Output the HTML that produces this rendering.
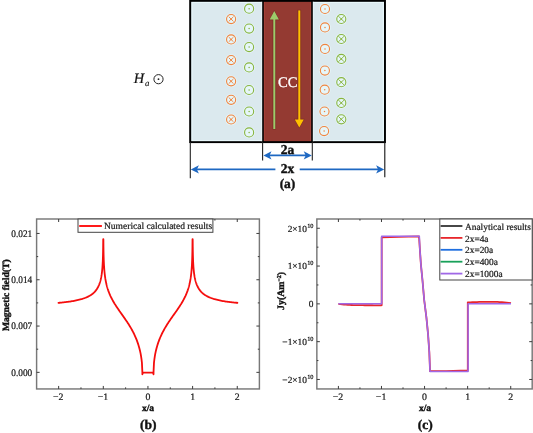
<!DOCTYPE html>
<html><head><meta charset="utf-8"><style>
html,body{margin:0;padding:0;background:#fff;}
svg{display:block;will-change:transform;text-rendering:geometricPrecision;}
.k{stroke:#1a1a1a;stroke-width:0.22px;}
.kb{stroke:#111;stroke-width:0.4px;}
</style></head><body>
<svg width="533" height="433" viewBox="0 0 533 433">
<rect x="190.3" y="0.8" width="194.59999999999997" height="141.39999999999998" fill="#dbe9ee" stroke="#000" stroke-width="1.7"/><rect x="191.85000000000002" y="2.35" width="191.49999999999997" height="138.29999999999998" fill="none" stroke="#e8f7fa" stroke-width="1.3"/><rect x="261.3" y="0.8" width="52.4" height="141.39999999999998" fill="#e8f7fa"/><rect x="263.0" y="0.8" width="49.0" height="141.39999999999998" fill="#ad463d"/><rect x="264.6" y="2.0" width="45.8" height="138.99999999999997" fill="#943a32"/><rect x="263.0" y="0.8" width="49.0" height="141.39999999999998" fill="none" stroke="#000" stroke-width="1.6"/><rect x="190.3" y="0.8" width="194.59999999999997" height="141.39999999999998" fill="none" stroke="#000" stroke-width="1.7"/><circle cx="231.1" cy="19.05" r="4.55" fill="#e6f6f9" stroke="#e6f6f9" stroke-width="2.6"/><circle cx="231.1" cy="19.05" r="4.55" fill="none" stroke="#f0843f" stroke-width="1.1"/><path d="M228.7 16.650000000000002L233.5 21.45M233.5 16.650000000000002L228.7 21.45" stroke="#f0843f" stroke-width="0.95"/><circle cx="231.1" cy="19.05" r="0.8" fill="#f0843f"/><circle cx="231.1" cy="39.45" r="4.55" fill="#e6f6f9" stroke="#e6f6f9" stroke-width="2.6"/><circle cx="231.1" cy="39.45" r="4.55" fill="none" stroke="#f0843f" stroke-width="1.1"/><path d="M228.7 37.050000000000004L233.5 41.85M233.5 37.050000000000004L228.7 41.85" stroke="#f0843f" stroke-width="0.95"/><circle cx="231.1" cy="39.45" r="0.8" fill="#f0843f"/><circle cx="231.1" cy="60.1" r="4.55" fill="#e6f6f9" stroke="#e6f6f9" stroke-width="2.6"/><circle cx="231.1" cy="60.1" r="4.55" fill="none" stroke="#f0843f" stroke-width="1.1"/><path d="M228.7 57.7L233.5 62.5M233.5 57.7L228.7 62.5" stroke="#f0843f" stroke-width="0.95"/><circle cx="231.1" cy="60.1" r="0.8" fill="#f0843f"/><circle cx="231.1" cy="81.3" r="4.55" fill="#e6f6f9" stroke="#e6f6f9" stroke-width="2.6"/><circle cx="231.1" cy="81.3" r="4.55" fill="none" stroke="#f0843f" stroke-width="1.1"/><path d="M228.7 78.89999999999999L233.5 83.7M233.5 78.89999999999999L228.7 83.7" stroke="#f0843f" stroke-width="0.95"/><circle cx="231.1" cy="81.3" r="0.8" fill="#f0843f"/><circle cx="231.1" cy="99.8" r="4.55" fill="#e6f6f9" stroke="#e6f6f9" stroke-width="2.6"/><circle cx="231.1" cy="99.8" r="4.55" fill="none" stroke="#f0843f" stroke-width="1.1"/><path d="M228.7 97.39999999999999L233.5 102.2M233.5 97.39999999999999L228.7 102.2" stroke="#f0843f" stroke-width="0.95"/><circle cx="231.1" cy="99.8" r="0.8" fill="#f0843f"/><circle cx="231.1" cy="119.5" r="4.55" fill="#e6f6f9" stroke="#e6f6f9" stroke-width="2.6"/><circle cx="231.1" cy="119.5" r="4.55" fill="none" stroke="#f0843f" stroke-width="1.1"/><path d="M228.7 117.1L233.5 121.9M233.5 117.1L228.7 121.9" stroke="#f0843f" stroke-width="0.95"/><circle cx="231.1" cy="119.5" r="0.8" fill="#f0843f"/><circle cx="249.1" cy="8.7" r="4.55" fill="#e6f6f9" stroke="#e6f6f9" stroke-width="2.6"/><circle cx="249.1" cy="8.7" r="4.55" fill="none" stroke="#89b43f" stroke-width="1.1"/><circle cx="249.1" cy="8.7" r="0.75" fill="#89b43f"/><circle cx="249.1" cy="28.6" r="4.55" fill="#e6f6f9" stroke="#e6f6f9" stroke-width="2.6"/><circle cx="249.1" cy="28.6" r="4.55" fill="none" stroke="#89b43f" stroke-width="1.1"/><circle cx="249.1" cy="28.6" r="0.75" fill="#89b43f"/><circle cx="249.1" cy="47.1" r="4.55" fill="#e6f6f9" stroke="#e6f6f9" stroke-width="2.6"/><circle cx="249.1" cy="47.1" r="4.55" fill="none" stroke="#89b43f" stroke-width="1.1"/><circle cx="249.1" cy="47.1" r="0.75" fill="#89b43f"/><circle cx="249.1" cy="67.4" r="4.55" fill="#e6f6f9" stroke="#e6f6f9" stroke-width="2.6"/><circle cx="249.1" cy="67.4" r="4.55" fill="none" stroke="#89b43f" stroke-width="1.1"/><circle cx="249.1" cy="67.4" r="0.75" fill="#89b43f"/><circle cx="249.1" cy="90.0" r="4.55" fill="#e6f6f9" stroke="#e6f6f9" stroke-width="2.6"/><circle cx="249.1" cy="90.0" r="4.55" fill="none" stroke="#89b43f" stroke-width="1.1"/><circle cx="249.1" cy="90.0" r="0.75" fill="#89b43f"/><circle cx="249.1" cy="111.5" r="4.55" fill="#e6f6f9" stroke="#e6f6f9" stroke-width="2.6"/><circle cx="249.1" cy="111.5" r="4.55" fill="none" stroke="#89b43f" stroke-width="1.1"/><circle cx="249.1" cy="111.5" r="0.75" fill="#89b43f"/><circle cx="249.1" cy="132.4" r="4.55" fill="#e6f6f9" stroke="#e6f6f9" stroke-width="2.6"/><circle cx="249.1" cy="132.4" r="4.55" fill="none" stroke="#89b43f" stroke-width="1.1"/><circle cx="249.1" cy="132.4" r="0.75" fill="#89b43f"/><circle cx="325" cy="9" r="4.55" fill="#e6f6f9" stroke="#e6f6f9" stroke-width="2.6"/><circle cx="325" cy="9" r="4.55" fill="none" stroke="#f0843f" stroke-width="1.1"/><circle cx="325" cy="9" r="0.75" fill="#f0843f"/><circle cx="325" cy="27.4" r="4.55" fill="#e6f6f9" stroke="#e6f6f9" stroke-width="2.6"/><circle cx="325" cy="27.4" r="4.55" fill="none" stroke="#f0843f" stroke-width="1.1"/><circle cx="325" cy="27.4" r="0.75" fill="#f0843f"/><circle cx="325" cy="48.9" r="4.55" fill="#e6f6f9" stroke="#e6f6f9" stroke-width="2.6"/><circle cx="325" cy="48.9" r="4.55" fill="none" stroke="#f0843f" stroke-width="1.1"/><circle cx="325" cy="48.9" r="0.75" fill="#f0843f"/><circle cx="324.9" cy="70.6" r="4.55" fill="#e6f6f9" stroke="#e6f6f9" stroke-width="2.6"/><circle cx="324.9" cy="70.6" r="4.55" fill="none" stroke="#f0843f" stroke-width="1.1"/><circle cx="324.9" cy="70.6" r="0.75" fill="#f0843f"/><circle cx="324.7" cy="89.7" r="4.55" fill="#e6f6f9" stroke="#e6f6f9" stroke-width="2.6"/><circle cx="324.7" cy="89.7" r="4.55" fill="none" stroke="#f0843f" stroke-width="1.1"/><circle cx="324.7" cy="89.7" r="0.75" fill="#f0843f"/><circle cx="324.5" cy="111.5" r="4.55" fill="#e6f6f9" stroke="#e6f6f9" stroke-width="2.6"/><circle cx="324.5" cy="111.5" r="4.55" fill="none" stroke="#f0843f" stroke-width="1.1"/><circle cx="324.5" cy="111.5" r="0.75" fill="#f0843f"/><circle cx="324.1" cy="131.1" r="4.55" fill="#e6f6f9" stroke="#e6f6f9" stroke-width="2.6"/><circle cx="324.1" cy="131.1" r="4.55" fill="none" stroke="#f0843f" stroke-width="1.1"/><circle cx="324.1" cy="131.1" r="0.75" fill="#f0843f"/><circle cx="341.3" cy="19.0" r="4.55" fill="#e6f6f9" stroke="#e6f6f9" stroke-width="2.6"/><circle cx="341.3" cy="19.0" r="4.55" fill="none" stroke="#89b43f" stroke-width="1.1"/><path d="M338.40000000000003 16.1L344.2 21.9M344.2 16.1L338.40000000000003 21.9" stroke="#89b43f" stroke-width="0.95"/><circle cx="341.3" cy="19.0" r="0.8" fill="#89b43f"/><circle cx="341.3" cy="39.0" r="4.55" fill="#e6f6f9" stroke="#e6f6f9" stroke-width="2.6"/><circle cx="341.3" cy="39.0" r="4.55" fill="none" stroke="#89b43f" stroke-width="1.1"/><path d="M338.40000000000003 36.1L344.2 41.9M344.2 36.1L338.40000000000003 41.9" stroke="#89b43f" stroke-width="0.95"/><circle cx="341.3" cy="39.0" r="0.8" fill="#89b43f"/><circle cx="341.3" cy="58.9" r="4.55" fill="#e6f6f9" stroke="#e6f6f9" stroke-width="2.6"/><circle cx="341.3" cy="58.9" r="4.55" fill="none" stroke="#89b43f" stroke-width="1.1"/><path d="M338.40000000000003 56.0L344.2 61.8M344.2 56.0L338.40000000000003 61.8" stroke="#89b43f" stroke-width="0.95"/><circle cx="341.3" cy="58.9" r="0.8" fill="#89b43f"/><circle cx="341.3" cy="82.2" r="4.55" fill="#e6f6f9" stroke="#e6f6f9" stroke-width="2.6"/><circle cx="341.3" cy="82.2" r="4.55" fill="none" stroke="#89b43f" stroke-width="1.1"/><path d="M338.40000000000003 79.3L344.2 85.10000000000001M344.2 79.3L338.40000000000003 85.10000000000001" stroke="#89b43f" stroke-width="0.95"/><circle cx="341.3" cy="82.2" r="0.8" fill="#89b43f"/><circle cx="341.3" cy="102.9" r="4.55" fill="#e6f6f9" stroke="#e6f6f9" stroke-width="2.6"/><circle cx="341.3" cy="102.9" r="4.55" fill="none" stroke="#89b43f" stroke-width="1.1"/><path d="M338.40000000000003 100.0L344.2 105.80000000000001M344.2 100.0L338.40000000000003 105.80000000000001" stroke="#89b43f" stroke-width="0.95"/><circle cx="341.3" cy="102.9" r="0.8" fill="#89b43f"/><circle cx="341.3" cy="119.3" r="4.55" fill="#e6f6f9" stroke="#e6f6f9" stroke-width="2.6"/><circle cx="341.3" cy="119.3" r="4.55" fill="none" stroke="#89b43f" stroke-width="1.1"/><path d="M338.40000000000003 116.39999999999999L344.2 122.2M344.2 116.39999999999999L338.40000000000003 122.2" stroke="#89b43f" stroke-width="0.95"/><circle cx="341.3" cy="119.3" r="0.8" fill="#89b43f"/><line x1="274.3" y1="129.5" x2="274.3" y2="17" stroke="#7e2c27" stroke-width="3.6"/><path d="M274.3 10 L279.8 20.3 L268.8 20.3Z" fill="#7e2c27"/><line x1="299.3" y1="9.8" x2="299.3" y2="122" stroke="#7e2c27" stroke-width="3.6"/><path d="M299.3 128.4 L304.6 118.8 L294.0 118.8Z" fill="#7e2c27"/><line x1="274.3" y1="129" x2="274.3" y2="17" stroke="#9ccb6a" stroke-width="2"/><path d="M274.3 11 L278.9 19.6 L269.7 19.6Z" fill="#9ccb6a"/><line x1="299.3" y1="10.4" x2="299.3" y2="122" stroke="#ffc000" stroke-width="2"/><path d="M299.3 127.6 L303.8 119.4 L294.8 119.4Z" fill="#ffc000"/><text x="287.7" y="87.4" font-family='"Liberation Serif", serif' font-size="14.6" fill="#fff" stroke="#fff" stroke-width="0.3" text-anchor="middle">CC</text><text x="133.7" y="82.9" font-family='"Liberation Serif", serif' font-size="14.4" font-style="italic" fill="#111" stroke="#111" stroke-width="0.2">H</text><text x="145.0" y="86.4" font-family='"Liberation Serif", serif' font-size="8.8" font-style="italic" fill="#111" stroke="#111" stroke-width="0.15">a</text><circle cx="158.5" cy="79.2" r="4.6" fill="none" stroke="#222" stroke-width="1"/><circle cx="158.5" cy="79.2" r="0.9" fill="#222"/><line x1="190.3" y1="142" x2="190.3" y2="178.3" stroke="#222" stroke-width="1.1"/><line x1="384.8" y1="142" x2="384.8" y2="177.3" stroke="#111" stroke-width="1.1"/><line x1="262.6" y1="142" x2="262.6" y2="160.6" stroke="#222" stroke-width="1.1"/><line x1="312.3" y1="142" x2="312.3" y2="160.6" stroke="#222" stroke-width="1.1"/><line x1="268" y1="155.4" x2="307" y2="155.4" stroke="#1e68c2" stroke-width="1.6"/><path d="M263.4 155.4 L271.5 151.2 L269.5 155.4 L271.5 159.6Z" fill="#1e68c2"/><path d="M311.8 155.4 L303.7 151.2 L305.7 155.4 L303.7 159.6Z" fill="#1e68c2"/><line x1="195" y1="169.4" x2="275.4" y2="169.4" stroke="#1e68c2" stroke-width="1.6"/><line x1="299.7" y1="169.4" x2="380" y2="169.4" stroke="#1e68c2" stroke-width="1.6"/><path d="M190.8 169.4 L198.9 165.2 L196.9 169.4 L198.9 173.6Z" fill="#1e68c2"/><path d="M384.2 169.4 L376.1 165.2 L378.1 169.4 L376.1 173.6Z" fill="#1e68c2"/><text x="287.4" y="153.9" font-family='"Liberation Serif", serif' font-size="13.5" font-weight="bold" fill="#111" class="kb" text-anchor="middle">2a</text><text x="287.5" y="172.8" font-family='"Liberation Serif", serif' font-size="13.5" font-weight="bold" fill="#111" class="kb" text-anchor="middle">2x</text><text x="287.5" y="187.5" font-family='"Liberation Serif", serif' font-size="13.5" font-weight="bold" fill="#111" class="kb" text-anchor="middle">(a)</text><path d="M58.65 302.83 L59.68 302.74 L60.71 302.64 L61.74 302.54 L62.77 302.43 L63.80 302.32 L64.83 302.20 L65.86 302.08 L66.89 301.95 L67.92 301.82 L68.95 301.68 L69.98 301.53 L71.01 301.37 L72.04 301.20 L73.08 301.03 L74.11 300.84 L75.14 300.65 L76.17 300.44 L77.20 300.21 L78.23 299.98 L79.26 299.73 L80.29 299.46 L81.32 299.17 L82.35 298.86 L83.38 298.52 L84.41 298.16 L85.44 297.77 L86.47 297.34 L87.50 296.88 L88.53 296.37 L89.56 295.80 L90.59 295.18 L91.62 294.48 L92.65 293.70 L93.68 292.81 L94.71 291.80 L95.74 290.61 L96.77 289.21 L97.80 287.52 L98.83 285.41 L98.91 285.23 L98.99 285.05 L99.06 284.87 L99.14 284.68 L99.21 284.49 L99.29 284.30 L99.36 284.10 L99.44 283.89 L99.52 283.68 L99.59 283.47 L99.67 283.25 L99.74 283.03 L99.82 282.80 L99.89 282.57 L99.97 282.33 L100.05 282.08 L100.12 281.83 L100.20 281.57 L100.27 281.30 L100.35 281.03 L100.42 280.75 L100.50 280.46 L100.58 280.16 L100.65 279.85 L100.73 279.53 L100.80 279.20 L100.88 278.87 L100.95 278.52 L101.03 278.15 L101.11 277.78 L101.18 277.39 L101.26 276.98 L101.33 276.56 L101.41 276.12 L101.48 275.66 L101.56 275.18 L101.64 274.68 L101.71 274.16 L101.79 273.60 L101.86 273.02 L101.94 272.40 L102.01 271.75 L102.09 271.06 L102.16 270.32 L102.24 269.52 L102.32 268.67 L102.39 267.74 L102.47 266.73 L102.54 265.63 L102.62 264.40 L102.69 263.02 L102.77 261.46 L102.85 259.65 L102.92 257.50 L103.00 254.87 L103.07 251.46 L103.15 246.65 L103.22 239.27 L103.30 239.27 L103.38 239.27 L103.45 246.78 L103.53 251.65 L103.60 255.11 L103.68 257.81 L103.75 260.02 L103.83 261.89 L103.91 263.51 L103.98 264.95 L104.06 266.24 L104.13 267.41 L104.21 268.48 L104.28 269.47 L104.36 270.38 L104.44 271.24 L104.51 272.04 L104.59 272.80 L104.66 273.51 L104.74 274.19 L104.81 274.83 L104.89 275.45 L104.96 276.03 L105.04 276.60 L105.12 277.14 L105.19 277.66 L105.27 278.16 L105.34 278.64 L105.42 279.11 L105.49 279.56 L105.57 279.99 L105.65 280.42 L105.72 280.83 L105.80 281.23 L105.87 281.62 L105.95 282.00 L106.02 282.37 L106.10 282.73 L106.18 283.08 L106.25 283.42 L106.33 283.76 L106.40 284.09 L106.48 284.41 L106.55 284.72 L106.63 285.03 L106.71 285.33 L106.78 285.63 L106.86 285.92 L106.93 286.21 L107.01 286.49 L107.08 286.76 L107.16 287.03 L107.24 287.30 L107.31 287.56 L107.39 287.82 L107.46 288.07 L107.54 288.32 L107.61 288.57 L107.69 288.81 L107.76 289.05 L108.20 290.37 L108.64 291.59 L109.08 292.74 L109.52 293.82 L109.96 294.85 L110.39 295.83 L110.83 296.76 L111.27 297.66 L111.71 298.53 L112.15 299.36 L112.58 300.17 L113.02 300.96 L113.46 301.72 L113.90 302.47 L114.34 303.20 L114.77 303.92 L115.21 304.62 L115.65 305.31 L116.09 305.99 L116.53 306.66 L116.96 307.32 L117.40 307.97 L117.84 308.62 L118.28 309.26 L118.72 309.89 L119.15 310.52 L119.59 311.15 L120.03 311.77 L120.47 312.40 L120.91 313.02 L121.34 313.63 L121.78 314.25 L122.22 314.87 L122.66 315.49 L123.10 316.11 L123.53 316.73 L123.97 317.36 L124.41 317.98 L124.85 318.61 L125.29 319.25 L125.72 319.89 L126.16 320.53 L126.60 321.18 L127.04 321.84 L127.48 322.50 L127.91 323.17 L128.35 323.85 L128.79 324.54 L129.23 325.24 L129.67 325.95 L130.10 326.67 L130.54 327.41 L130.98 328.15 L131.42 328.92 L131.86 329.70 L132.29 330.50 L132.73 331.32 L133.17 332.16 L133.61 333.02 L134.05 333.91 L134.48 334.83 L134.92 335.78 L135.36 336.76 L135.80 337.77 L136.24 338.83 L136.67 339.94 L137.11 341.10 L137.55 342.32 L137.99 343.60 L138.43 344.97 L138.86 346.43 L139.30 348.00 L139.74 349.70 L140.18 351.58 L140.62 353.68 L141.05 356.10 L141.49 359.01 L141.93 362.87 L142.37 372.35 L142.37 374.33 L142.90 372.68 L153.00 372.68 L153.53 374.33 L153.53 372.35 L153.97 362.87 L154.41 359.01 L154.85 356.10 L155.28 353.68 L155.72 351.58 L156.16 349.70 L156.60 348.00 L157.04 346.43 L157.47 344.97 L157.91 343.60 L158.35 342.32 L158.79 341.10 L159.23 339.94 L159.66 338.83 L160.10 337.77 L160.54 336.76 L160.98 335.78 L161.42 334.83 L161.85 333.91 L162.29 333.02 L162.73 332.16 L163.17 331.32 L163.61 330.50 L164.04 329.70 L164.48 328.92 L164.92 328.15 L165.36 327.41 L165.80 326.67 L166.23 325.95 L166.67 325.24 L167.11 324.54 L167.55 323.85 L167.99 323.17 L168.42 322.50 L168.86 321.84 L169.30 321.18 L169.74 320.53 L170.18 319.89 L170.61 319.25 L171.05 318.61 L171.49 317.98 L171.93 317.36 L172.37 316.73 L172.80 316.11 L173.24 315.49 L173.68 314.87 L174.12 314.25 L174.56 313.63 L174.99 313.02 L175.43 312.40 L175.87 311.77 L176.31 311.15 L176.75 310.52 L177.18 309.89 L177.62 309.26 L178.06 308.62 L178.50 307.97 L178.94 307.32 L179.37 306.66 L179.81 305.99 L180.25 305.31 L180.69 304.62 L181.13 303.92 L181.56 303.20 L182.00 302.47 L182.44 301.72 L182.88 300.96 L183.32 300.17 L183.75 299.36 L184.19 298.53 L184.63 297.66 L185.07 296.76 L185.51 295.83 L185.94 294.85 L186.38 293.82 L186.82 292.74 L187.26 291.59 L187.70 290.37 L188.13 289.05 L188.21 288.81 L188.29 288.57 L188.36 288.32 L188.44 288.07 L188.51 287.82 L188.59 287.56 L188.66 287.30 L188.74 287.03 L188.82 286.76 L188.89 286.49 L188.97 286.21 L189.04 285.92 L189.12 285.63 L189.19 285.33 L189.27 285.03 L189.35 284.72 L189.42 284.41 L189.50 284.09 L189.57 283.76 L189.65 283.42 L189.72 283.08 L189.80 282.73 L189.88 282.37 L189.95 282.00 L190.03 281.62 L190.10 281.23 L190.18 280.83 L190.25 280.42 L190.33 279.99 L190.41 279.56 L190.48 279.11 L190.56 278.64 L190.63 278.16 L190.71 277.66 L190.78 277.14 L190.86 276.60 L190.94 276.03 L191.01 275.45 L191.09 274.83 L191.16 274.19 L191.24 273.51 L191.31 272.80 L191.39 272.04 L191.46 271.24 L191.54 270.38 L191.62 269.47 L191.69 268.48 L191.77 267.41 L191.84 266.24 L191.92 264.95 L191.99 263.51 L192.07 261.89 L192.15 260.02 L192.22 257.81 L192.30 255.11 L192.37 251.65 L192.45 246.78 L192.52 239.27 L192.60 239.27 L192.68 239.27 L192.75 246.65 L192.83 251.46 L192.90 254.87 L192.98 257.50 L193.05 259.65 L193.13 261.46 L193.21 263.02 L193.28 264.40 L193.36 265.63 L193.43 266.73 L193.51 267.74 L193.58 268.67 L193.66 269.52 L193.74 270.32 L193.81 271.06 L193.89 271.75 L193.96 272.40 L194.04 273.02 L194.11 273.60 L194.19 274.16 L194.26 274.68 L194.34 275.18 L194.42 275.66 L194.49 276.12 L194.57 276.56 L194.64 276.98 L194.72 277.39 L194.79 277.78 L194.87 278.15 L194.95 278.52 L195.02 278.87 L195.10 279.20 L195.17 279.53 L195.25 279.85 L195.32 280.16 L195.40 280.46 L195.48 280.75 L195.55 281.03 L195.63 281.30 L195.70 281.57 L195.78 281.83 L195.85 282.08 L195.93 282.33 L196.01 282.57 L196.08 282.80 L196.16 283.03 L196.23 283.25 L196.31 283.47 L196.38 283.68 L196.46 283.89 L196.54 284.10 L196.61 284.30 L196.69 284.49 L196.76 284.68 L196.84 284.87 L196.91 285.05 L196.99 285.23 L197.06 285.41 L198.10 287.52 L199.13 289.21 L200.16 290.61 L201.19 291.80 L202.22 292.81 L203.25 293.70 L204.28 294.48 L205.31 295.18 L206.34 295.80 L207.37 296.37 L208.40 296.88 L209.43 297.34 L210.46 297.77 L211.49 298.16 L212.52 298.52 L213.55 298.86 L214.58 299.17 L215.61 299.46 L216.64 299.73 L217.67 299.98 L218.70 300.21 L219.73 300.44 L220.76 300.65 L221.79 300.84 L222.82 301.03 L223.85 301.20 L224.89 301.37 L225.92 301.53 L226.95 301.68 L227.98 301.82 L229.01 301.95 L230.04 302.08 L231.07 302.20 L232.10 302.32 L233.13 302.43 L234.16 302.54 L235.19 302.64 L236.22 302.74 L237.25 302.83" fill="none" stroke="#f50d0d" stroke-width="1.8" stroke-linejoin="round" stroke-linecap="square"/><rect x="36.6" y="219.0" width="222.79999999999998" height="169.95" fill="none" stroke="#787878" stroke-width="1.45"/><path d="M58.65 388.95v-3M58.65 219.0v3M103.30 388.95v-3M103.30 219.0v3M147.95 388.95v-3M147.95 219.0v3M192.60 388.95v-3M192.60 219.0v3M237.25 388.95v-3M237.25 219.0v3M80.97 388.95v-1.6M80.97 219.0v1.6M125.62 388.95v-1.6M125.62 219.0v1.6M170.27 388.95v-1.6M170.27 219.0v1.6M214.92 388.95v-1.6M214.92 219.0v1.6M36.6 372.35h3M259.4 372.35h-3M36.6 326.05h3M259.4 326.05h-3M36.6 279.75h3M259.4 279.75h-3M36.6 233.45h3M259.4 233.45h-3M36.6 349.20h1.6M259.4 349.20h-1.6M36.6 302.90h1.6M259.4 302.90h-1.6M36.6 256.60h1.6M259.4 256.60h-1.6" stroke="#3c3c3c" stroke-width="1.0"/><text x="58.25" y="400.0" font-family='"Liberation Serif", serif' font-size="9.8" fill="#1a1a1a" class="k" text-anchor="middle">−2</text><text x="102.90" y="400.0" font-family='"Liberation Serif", serif' font-size="9.8" fill="#1a1a1a" class="k" text-anchor="middle">−1</text><text x="147.95" y="400.0" font-family='"Liberation Serif", serif' font-size="9.8" fill="#1a1a1a" class="k" text-anchor="middle">0</text><text x="192.60" y="400.0" font-family='"Liberation Serif", serif' font-size="9.8" fill="#1a1a1a" class="k" text-anchor="middle">1</text><text x="237.25" y="400.0" font-family='"Liberation Serif", serif' font-size="9.8" fill="#1a1a1a" class="k" text-anchor="middle">2</text><text x="32.2" y="375.75" font-family='"Liberation Serif", serif' font-size="9.3" fill="#1a1a1a" class="k" text-anchor="end" transform="translate(0,-30.06) scale(1,1.08)">0.000</text><text x="32.2" y="329.45" font-family='"Liberation Serif", serif' font-size="9.3" fill="#1a1a1a" class="k" text-anchor="end" transform="translate(0,-26.36) scale(1,1.08)">0.007</text><text x="32.2" y="283.15" font-family='"Liberation Serif", serif' font-size="9.3" fill="#1a1a1a" class="k" text-anchor="end" transform="translate(0,-22.65) scale(1,1.08)">0.014</text><text x="32.2" y="236.85" font-family='"Liberation Serif", serif' font-size="9.3" fill="#1a1a1a" class="k" text-anchor="end" transform="translate(0,-18.95) scale(1,1.08)">0.021</text><text x="148" y="410.7" font-family='"Liberation Serif", serif' font-size="9.5" font-weight="bold" fill="#111" class="kb" text-anchor="middle">x/a</text><text transform="translate(8.9,295.2) rotate(-90)" font-family='"Liberation Serif", serif' font-size="9.6" font-weight="bold" fill="#111" class="kb" text-anchor="middle">Magnetic field(T)</text><text x="148.3" y="429.2" font-family='"Liberation Serif", serif' font-size="13.5" font-weight="bold" fill="#111" class="kb" text-anchor="middle">(b)</text><rect x="78" y="219" width="134.9" height="13.3" fill="#fff" stroke="#444" stroke-width="1"/><line x1="79.2" y1="226" x2="101.9" y2="226" stroke="#ff0000" stroke-width="1.8"/><text x="104" y="229.2" font-family='"Liberation Serif", serif' font-size="9.5" fill="#1a1a1a" class="k">Numerical calculated results</text><path d="M338.40 303.90 L340.27 304.17 L342.15 304.39 L344.02 304.57 L345.89 304.71 L347.77 304.83 L349.64 304.92 L351.51 304.99 L353.38 305.05 L355.26 305.10 L357.13 305.14 L359.00 305.17 L360.88 305.20 L362.75 305.22 L364.62 305.23 L366.50 305.25 L368.37 305.26 L370.24 305.27 L372.11 305.27 L373.99 305.28 L375.86 305.28 L377.73 305.29 L379.61 305.29 L381.48 305.29 L381.68 305.20 L381.68 237.40 L398.71 236.90 L419.00 236.40 L419.80 248.20 L420.90 264.30 L422.50 280.50 L424.20 300.00 L426.40 317.30 L428.10 334.70 L429.30 352.00 L429.85 366.00 L430.00 371.20 L446.10 371.20 L467.79 370.30 L467.79 302.30 L467.94 302.40 L470.21 302.30 L472.47 302.21 L474.74 302.11 L477.01 302.03 L479.28 301.96 L481.54 301.90 L483.81 301.85 L486.08 301.82 L488.35 301.80 L490.61 301.80 L492.88 301.82 L495.15 301.85 L497.42 301.90 L499.68 302.06 L501.95 302.27 L504.22 302.49 L506.49 302.72 L508.75 302.96 L511.02 303.20" fill="none" stroke="#e8262b" stroke-width="1.8" stroke-linejoin="round"/><path d="M338.40 303.70 L381.68 303.70 L381.68 236.20 L419.30 236.20 L419.80 248.20 L420.90 264.30 L422.50 280.50 L424.20 300.00 L426.40 317.30 L428.10 334.70 L429.30 352.00 L429.85 366.00 L430.00 371.50 L468.09 371.50 L468.09 303.70 L511.02 303.80" fill="none" stroke="#a068e6" stroke-width="1.6" stroke-linejoin="round"/><rect x="316.85" y="219.0" width="215.35000000000002" height="169.95" fill="none" stroke="#787878" stroke-width="1.45"/><path d="M338.40 388.95v-3M338.40 219.0v3M381.48 388.95v-3M381.48 219.0v3M424.56 388.95v-3M424.56 219.0v3M467.64 388.95v-3M467.64 219.0v3M510.72 388.95v-3M510.72 219.0v3M359.94 388.95v-1.6M359.94 219.0v1.6M403.02 388.95v-1.6M403.02 219.0v1.6M446.10 388.95v-1.6M446.10 219.0v1.6M489.18 388.95v-1.6M489.18 219.0v1.6M316.85 379.46h3M532.2 379.46h-3M316.85 341.66h3M532.2 341.66h-3M316.85 303.86h3M532.2 303.86h-3M316.85 266.06h3M532.2 266.06h-3M316.85 228.26h3M532.2 228.26h-3M316.85 360.56h1.6M532.2 360.56h-1.6M316.85 322.76h1.6M532.2 322.76h-1.6M316.85 284.96h1.6M532.2 284.96h-1.6M316.85 247.16h1.6M532.2 247.16h-1.6" stroke="#3c3c3c" stroke-width="1.0"/><text x="338.00" y="400.0" font-family='"Liberation Serif", serif' font-size="9.8" fill="#1a1a1a" class="k" text-anchor="middle">−2</text><text x="381.08" y="400.0" font-family='"Liberation Serif", serif' font-size="9.8" fill="#1a1a1a" class="k" text-anchor="middle">−1</text><text x="424.56" y="400.0" font-family='"Liberation Serif", serif' font-size="9.8" fill="#1a1a1a" class="k" text-anchor="middle">0</text><text x="467.64" y="400.0" font-family='"Liberation Serif", serif' font-size="9.8" fill="#1a1a1a" class="k" text-anchor="middle">1</text><text x="510.72" y="400.0" font-family='"Liberation Serif", serif' font-size="9.8" fill="#1a1a1a" class="k" text-anchor="middle">2</text><text x="307.0" y="231.56" font-family='"Liberation Serif", serif' font-size="9.4" fill="#1a1a1a" class="k" text-anchor="end">2×10</text><text x="307.2" y="227.66" font-family='"Liberation Serif", serif' font-size="6.3" fill="#1a1a1a" class="k">10</text><text x="307.0" y="269.36" font-family='"Liberation Serif", serif' font-size="9.4" fill="#1a1a1a" class="k" text-anchor="end">1×10</text><text x="307.2" y="265.46" font-family='"Liberation Serif", serif' font-size="6.3" fill="#1a1a1a" class="k">10</text><text x="307.0" y="344.96" font-family='"Liberation Serif", serif' font-size="9.4" fill="#1a1a1a" class="k" text-anchor="end">−1×10</text><text x="307.2" y="341.06" font-family='"Liberation Serif", serif' font-size="6.3" fill="#1a1a1a" class="k">10</text><text x="307.0" y="382.76" font-family='"Liberation Serif", serif' font-size="9.4" fill="#1a1a1a" class="k" text-anchor="end">−2×10</text><text x="307.2" y="378.86" font-family='"Liberation Serif", serif' font-size="6.3" fill="#1a1a1a" class="k">10</text><text x="313.5" y="307.16" font-family='"Liberation Serif", serif' font-size="9.4" fill="#1a1a1a" class="k" text-anchor="end">0</text><text x="425" y="410.7" font-family='"Liberation Serif", serif' font-size="9.5" font-weight="bold" fill="#111" class="kb" text-anchor="middle">x/a</text><text transform="translate(283.9,290.9) rotate(-90)" font-family='"Liberation Serif", serif' font-size="9.8" font-weight="bold" fill="#111" class="kb" text-anchor="middle">Jy(Am<tspan font-size="6" dy="-3">−2</tspan><tspan dy="3">)</tspan></text><text x="425.3" y="429.2" font-family='"Liberation Serif", serif' font-size="13.5" font-weight="bold" fill="#111" class="kb" text-anchor="middle">(c)</text><rect x="439.8" y="219" width="92.4" height="61" fill="#fff" stroke="#444" stroke-width="1"/><line x1="440.6" y1="226.00" x2="462.4" y2="226.00" stroke="#333" stroke-width="1.8"/><text x="465" y="229.60" font-family='"Liberation Serif", serif' font-size="9.4" fill="#1a1a1a" class="k">Analytical results</text><line x1="440.6" y1="237.90" x2="462.4" y2="237.90" stroke="#e8262b" stroke-width="1.8"/><text x="465" y="241.50" font-family='"Liberation Serif", serif' font-size="9.4" fill="#1a1a1a" class="k">2x=4a</text><line x1="440.6" y1="249.80" x2="462.4" y2="249.80" stroke="#1f6fe0" stroke-width="1.8"/><text x="465" y="253.40" font-family='"Liberation Serif", serif' font-size="9.4" fill="#1a1a1a" class="k">2x=20a</text><line x1="440.6" y1="261.70" x2="462.4" y2="261.70" stroke="#19a15a" stroke-width="1.8"/><text x="465" y="265.30" font-family='"Liberation Serif", serif' font-size="9.4" fill="#1a1a1a" class="k">2x=400a</text><line x1="440.6" y1="273.60" x2="462.4" y2="273.60" stroke="#a068e6" stroke-width="1.8"/><text x="465" y="277.20" font-family='"Liberation Serif", serif' font-size="9.4" fill="#1a1a1a" class="k">2x=1000a</text>
</svg>
</body></html>
